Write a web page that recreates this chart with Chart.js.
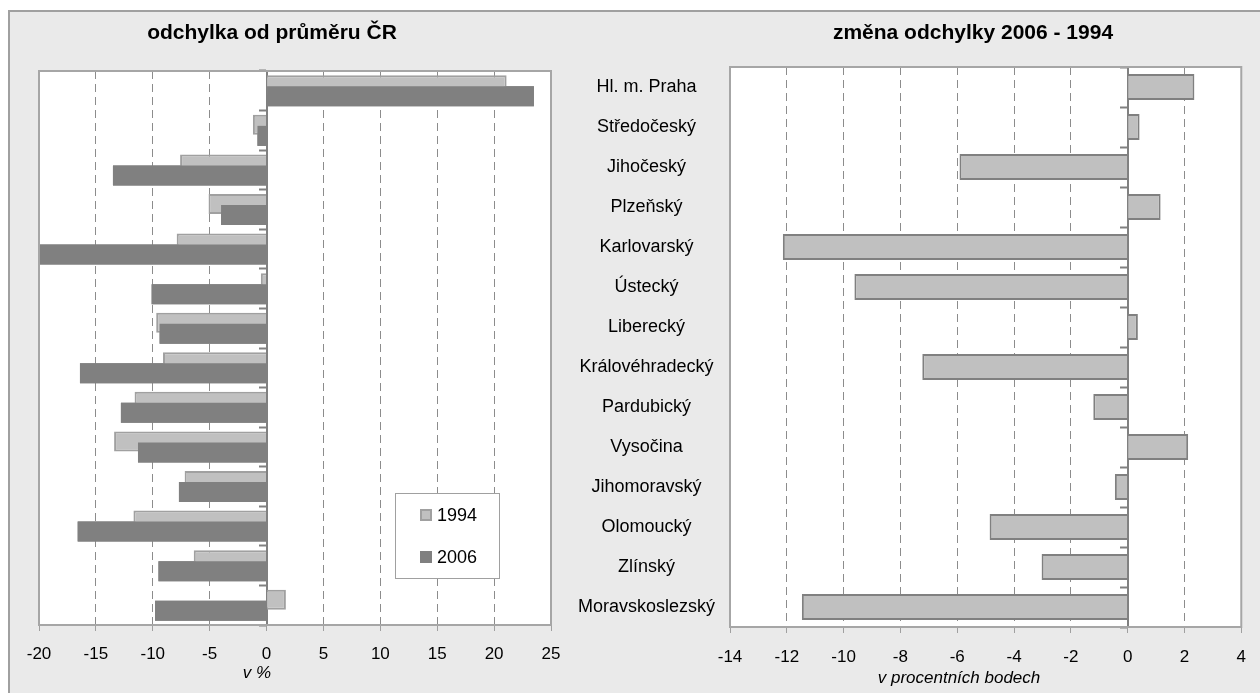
<!DOCTYPE html>
<html><head><meta charset="utf-8">
<script src="https://cdn.jsdelivr.net/npm/chart.js@4.4.1/dist/chart.umd.min.js"></script>
<style>
html,body{margin:0;padding:0;background:#fff;width:1260px;height:693px;overflow:hidden;}
#frame{position:absolute;left:8px;top:10px;width:1300px;height:720px;background:#EAEAEA;border-left:2px solid #A0A0A0;border-top:2px solid #A0A0A0;}
#c1{position:absolute;left:0;top:0;}
#c2{position:absolute;left:560px;top:0;}
</style></head><body>
<div id="frame"></div>
<canvas id="c1" width="600" height="693"></canvas>
<canvas id="c2" width="700" height="693"></canvas>
<script>
// ---- data ----
const regions = ['Hl. m. Praha','Středočeský','Jihočeský','Plzeňský','Karlovarský','Ústecký','Liberecký','Královéhradecký','Pardubický','Vysočina','Jihomoravský','Olomoucký','Zlínský','Moravskoslezský'];
const seriesNames = ['1994','2006'];
const dev1994 = [21.1,-1.2,-7.6,-5.1,-7.9,-0.5,-9.7,-9.1,-11.6,-13.4,-7.2,-11.7,-6.4,1.7];
const dev2006 = [23.5,-0.8,-13.5,-4.0,-20.0,-10.1,-9.4,-16.4,-12.8,-11.3,-7.7,-16.6,-9.5,-9.8];
const change = [2.35,0.42,-5.92,1.16,-12.14,-9.62,0.36,-7.23,-1.21,2.13,-0.45,-4.86,-3.03,-11.47];
const leftTickValues = [-20,-15,-10,-5,0,5,10,15,20,25];
const rightTickValues = [-14,-12,-10,-8,-6,-4,-2,0,2,4];
const titleLeft = 'odchylka od průměru ČR';
const titleRight = 'změna odchylky 2006 - 1994';
const axisTitleLeft = 'v %';
const axisTitleRight = 'v procentních bodech';

Chart.defaults.font.family = '"Liberation Sans", Arial, sans-serif';
Chart.defaults.color = '#000';

const LIGHT = '#C0C0C0', LIGHT_B = '#A0A0A0', DARK = '#808080', FRAME = '#A6A6A6', GRID = '#8C8C8C';

function textPlugin(items){
  return {id:'texts', afterDraw(chart){
    const ctx = chart.ctx; ctx.save();
    items.forEach(t=>{ctx.font=t.font; ctx.fillStyle='#000'; ctx.textAlign='center'; ctx.textBaseline='middle'; ctx.fillText(t.text,t.x,t.y);});
    ctx.restore();
  }};
}
const bgPlugin = {id:'bg', beforeDraw(chart){
  const a = chart.chartArea, ctx = chart.ctx; ctx.save(); ctx.fillStyle='#fff';
  ctx.fillRect(a.left,a.top,a.right-a.left,a.bottom-a.top); ctx.restore();
}};
function framePlugin(topDataset){
  return {id:'frameTop', afterDatasetsDraw(chart){
    const a = chart.chartArea, ctx = chart.ctx;
    if (topDataset !== null){
      ctx.save(); ctx.beginPath(); ctx.rect(a.left,a.top,a.right-a.left,a.bottom-a.top); ctx.clip();
      chart.getDatasetMeta(topDataset).controller.draw();
      ctx.restore();
    }
    ctx.save(); ctx.strokeStyle=FRAME; ctx.lineWidth=2;
    ctx.strokeRect(a.left,a.top,a.right-a.left,a.bottom-a.top); ctx.restore();
  }};
}
const legendPlugin = {id:'legendBox', afterDraw(chart){
  const ctx = chart.ctx; ctx.save();
  ctx.fillStyle='#fff'; ctx.fillRect(395.5,493.5,104,85);
  ctx.strokeStyle='#A0A0A0'; ctx.lineWidth=1; ctx.strokeRect(395.5,493.5,104,85);
  const ds = chart.data.datasets;
  const ys = [515,557];
  ds.forEach((d,i)=>{
    ctx.fillStyle=d.backgroundColor; ctx.fillRect(420,ys[i]-6,12,12);
    if (d.borderWidth){ctx.strokeStyle=d.borderColor; ctx.lineWidth=2; ctx.strokeRect(421,ys[i]-5,10,10);}
    ctx.fillStyle='#000'; ctx.font='18px "Liberation Sans", Arial, sans-serif';
    ctx.textAlign='left'; ctx.textBaseline='middle'; ctx.fillText(d.label,437,ys[i]+1);
  });
  ctx.restore();
}};

const zeroAxis = {
  type:'category', position:{x:0}, z:1,
  ticks:{display:false},
  grid:{drawOnChartArea:false, tickLength:7, tickColor:DARK, tickWidth:2, offset:true},
  border:{color:DARK, width:2}
};

new Chart(document.getElementById('c1'), {
  type:'bar',
  data:{labels:regions, datasets:[
    {label:seriesNames[0], data:dev1994, backgroundColor:LIGHT, borderColor:LIGHT_B, borderWidth:2},
    {label:seriesNames[1], data:dev2006, backgroundColor:DARK, borderColor:DARK, borderWidth:0}
  ]},
  options:{
    indexAxis:'y', responsive:false, animation:false,
    categoryPercentage:0.556, barPercentage:1.82,
    layout:{padding:{left:39,right:49,top:71,bottom:0}},
    plugins:{legend:{display:false}, tooltip:{enabled:false}},
    scales:{
      x:{type:'linear', min:leftTickValues[0], max:leftTickValues[leftTickValues.length-1],
        ticks:{stepSize:leftTickValues[1]-leftTickValues[0], font:{size:17}, padding:13, color:'#000'},
        grid:{color:GRID, lineWidth:1, tickLength:6, tickColor:'#A0A0A0', tickWidth:1},
        border:{display:false, dash:[8,5]},
        afterFit:(s)=>{s.height=68;}},
      y:zeroAxis
    }
  },
  plugins:[bgPlugin, framePlugin(1), legendPlugin,
    textPlugin([{text:titleLeft,x:272,y:33,font:'bold 21px "Liberation Sans", Arial, sans-serif'},
                {text:axisTitleLeft,x:257,y:673,font:'italic 17px "Liberation Sans", Arial, sans-serif'}])]
});

new Chart(document.getElementById('c2'), {
  type:'bar',
  data:{labels:regions, datasets:[
    {label:'změna', data:change, backgroundColor:LIGHT, borderColor:DARK, borderWidth:2, yAxisID:'y'}
  ]},
  options:{
    indexAxis:'y', responsive:false, animation:false,
    categoryPercentage:1, barPercentage:0.65,
    layout:{padding:{left:0,right:18,top:67,bottom:0}},
    plugins:{legend:{display:false}, tooltip:{enabled:false}},
    scales:{
      x:{type:'linear', min:rightTickValues[0], max:rightTickValues[rightTickValues.length-1],
        ticks:{stepSize:rightTickValues[1]-rightTickValues[0], font:{size:17}, padding:14, color:'#000'},
        grid:{color:GRID, lineWidth:1, tickLength:6, tickColor:'#A0A0A0', tickWidth:1},
        border:{display:false, dash:[8,5]},
        afterFit:(s)=>{s.height=66;}},
      y:{type:'category', position:'left',
        ticks:{font:{size:18}, color:'#000', crossAlign:'center', padding:7},
        grid:{display:false}, border:{display:false},
        afterFit:(s)=>{s.width=170;}},
      y2:Object.assign({}, zeroAxis, {axis:'y'})
    }
  },
  plugins:[bgPlugin, framePlugin(null),
    textPlugin([{text:titleRight,x:413,y:33,font:'bold 21px "Liberation Sans", Arial, sans-serif'},
                {text:axisTitleRight,x:399,y:678,font:'italic 17px "Liberation Sans", Arial, sans-serif'}])]
});
</script>
</body></html>
